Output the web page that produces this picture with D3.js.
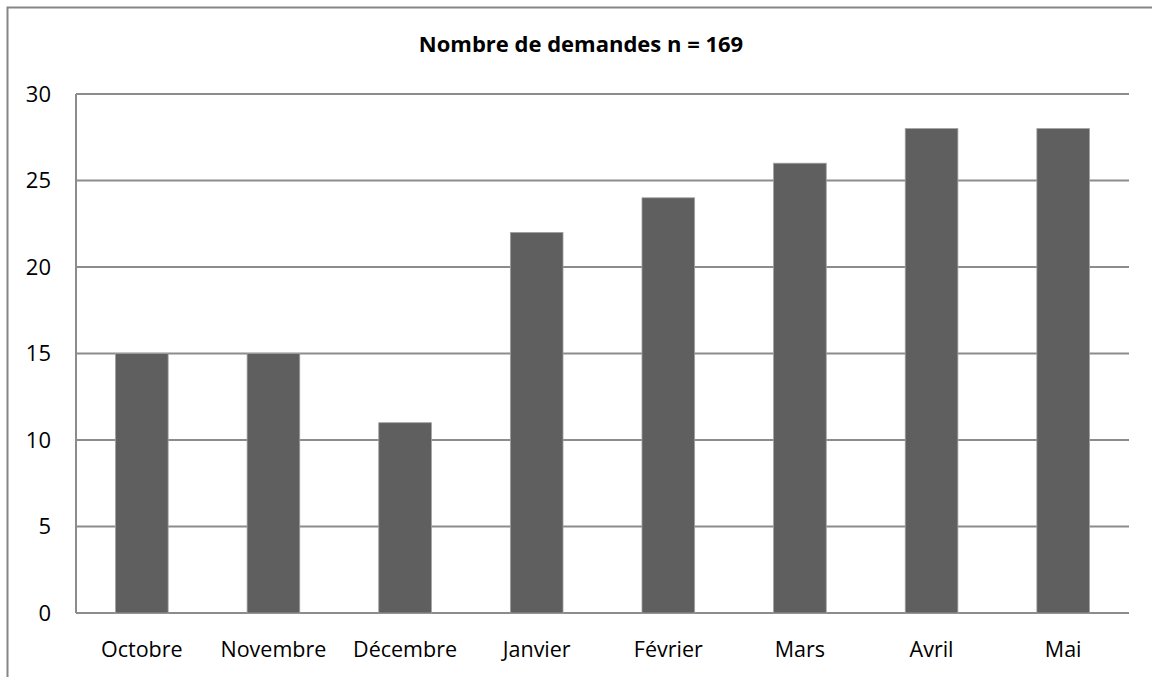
<!DOCTYPE html>
<html>
<head>
<meta charset="utf-8">
<script src="https://cdn.jsdelivr.net/npm/d3@7"></script>
<style>
  body { margin: 0; background: #fff; }
  svg { display: block; font-family: "Open Sans", sans-serif; }
</style>
</head>
<body>
<svg id="chart" width="1152" height="677"></svg>
<script>
// donnees
const mois = ["Octobre", "Novembre", "Décembre", "Janvier", "Février", "Mars", "Avril", "Mai"]
const demandes = [15, 15, 11, 22, 24, 26, 28, 28]
const graduations = [0, 5, 10, 15, 20, 25, 30]
const titre = "Nombre de demandes n = 169"

const svg = d3.select("#chart")

// cadre exterieur
svg.append("rect")
    .attr("x", 7.5).attr("y", 7.5)
    .attr("width", 1160).attr("height", 690)
    .attr("fill", "none")
    .attr("stroke", "#868686")
    .attr("stroke-width", 2)

var margin = {top: 94, right: 23, bottom: 64, left: 76},
    width = 1152 - margin.left - margin.right,
    height = 677 - margin.top - margin.bottom

const chart = svg.append("g")
    .attr("transform", "translate(" + margin.left + "," + margin.top + ")")

const x = d3.scaleBand()
    .range([0, width])
    .domain(mois)
    .paddingInner(0.6)
    .paddingOuter(0.3)

const y = d3.scaleLinear()
    .range([height, 0])
    .domain([0, 30])

/*grille*/
chart.append("g")
    .selectAll("line")
    .data(graduations)
    .enter()
    .append("line")
        .attr("x1", 0)
        .attr("x2", width)
        .attr("y1", (d) => y(d))
        .attr("y2", (d) => y(d))
        .attr("stroke", "#8c8c8c")
        .attr("stroke-width", 2)

// axe vertical (bord gauche)
chart.append("line")
    .attr("x1", 0).attr("x2", 0)
    .attr("y1", 0).attr("y2", height)
    .attr("stroke", "#8c8c8c")
    .attr("stroke-width", 2)

/*etiquettes y*/
chart.append("g")
    .selectAll("text")
    .data(graduations)
    .enter()
    .append("text")
        .attr("x", -25)
        .attr("y", (d) => y(d))
        .attr("dy", "0.36em")
        .attr("text-anchor", "end")
        .attr("font-size", 22)
        .attr("fill", "#000")
        .text((d) => d)

// barres
chart.selectAll("rect.barre")
    .data(demandes)
    .enter()
    .append("rect")
        .attr("class", "barre")
        .attr("x", (d, i) => x(mois[i]))
        .attr("y", (d) => y(d))
        .attr("width", x.bandwidth())
        .attr("height", (d) => height - y(d))
        .attr("fill", "#5f5f5f")
        .attr("stroke", "#a0a0a0")
        .attr("stroke-width", 0.8)

/*etiquettes x*/
chart.append("g")
    .selectAll("text")
    .data(mois)
    .enter()
    .append("text")
        .attr("x", (d) => x(d) + x.bandwidth() / 2)
        .attr("y", height + 44)
        .attr("text-anchor", "middle")
        .attr("font-size", 21.5)
        .attr("fill", "#000")
        .text((d) => d)

// titre
svg.append("text")
    .attr("x", 581)
    .attr("y", 52)
    .attr("text-anchor", "middle")
    .attr("font-size", 22)
    .attr("font-weight", "bold")
    .attr("fill", "#000")
    .text(titre)
</script>
</body>
</html>
